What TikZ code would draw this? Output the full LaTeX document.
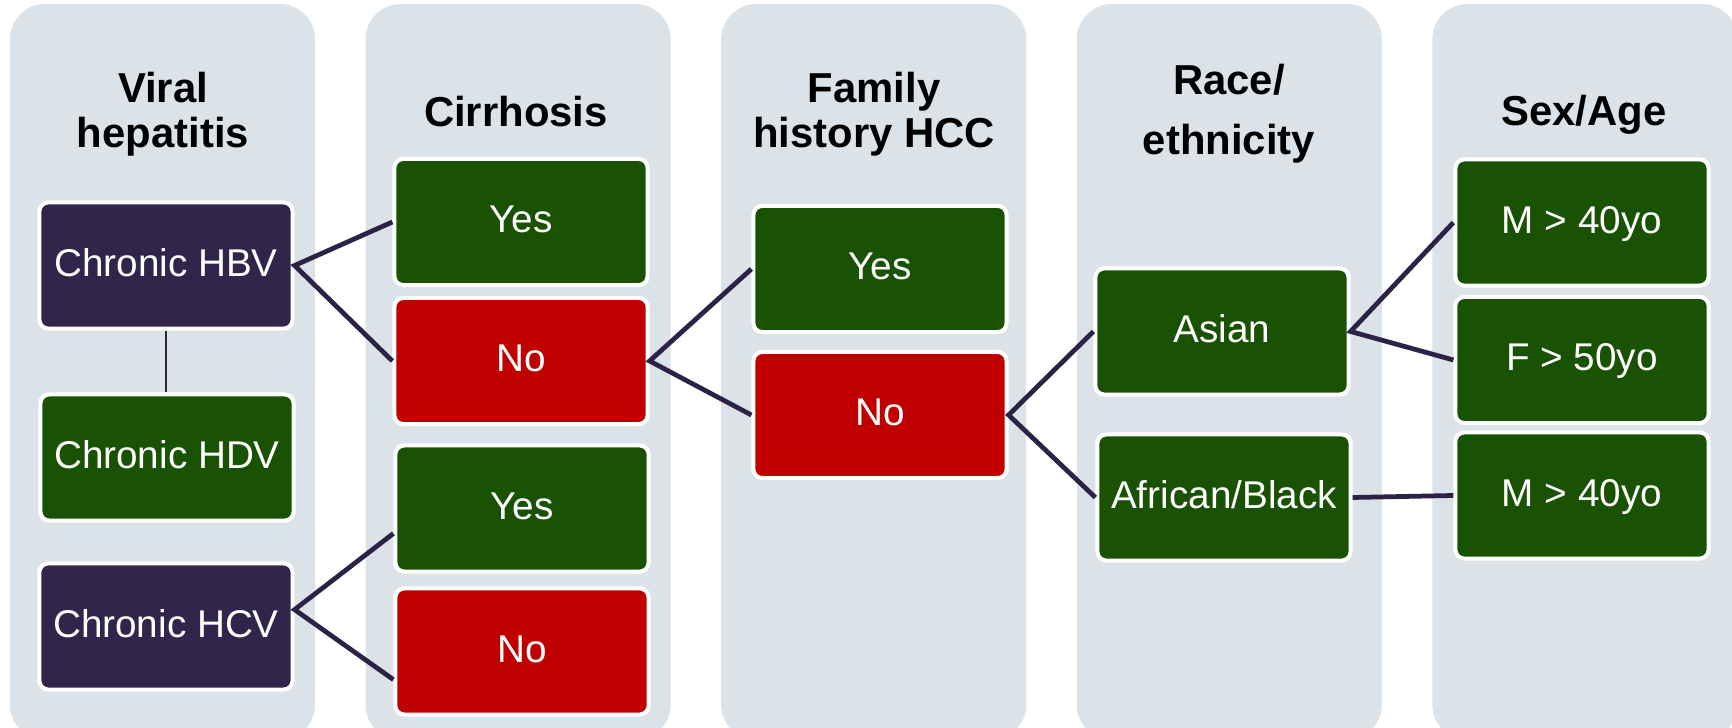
\documentclass[tikz,border=0pt]{standalone}
\usepackage{fontspec}
\setmainfont{Liberation Sans}
\usepackage{xcolor}
\usepackage{tikz}
\definecolor{panelgray}{HTML}{DBE3E9}
\definecolor{hepnavy}{HTML}{30254A}
\definecolor{hepgreen}{HTML}{185202}
\definecolor{hepred}{HTML}{C00000}
\definecolor{linknavy}{HTML}{2B2245}

\begin{document}
\begin{tikzpicture}[x=0.01cm,y=-0.01cm,
    box/.style={draw=white,line width=1.15pt,rounded corners=2.5pt,minimum width=2.53cm,minimum height=1.26cm,inner sep=0pt,text height=0.75em,text depth=0.15em,text=white,font=\fontsize{11}{13}\selectfont},
    navybox/.style={box,fill=hepnavy},
    yesbox/.style={box,fill=hepgreen},
    nobox/.style={box,fill=hepred},
    head/.style={align=center,font=\fontsize{11.9}{12.8}\selectfont\bfseries},
    link/.style={linknavy,line width=1.35pt}]
            \useasboundingbox (0,0) rectangle (1732,728);
            \foreach \c in {0,...,4}
                \fill[panelgray,rounded corners=10pt] (10+355.6*\c,4) rectangle (315+355.6*\c,740);
            \node[head] (hviral) at (163,114) {Viral\\hepatitis};
            \node[head] (hcirr) at (516,112) {Cirrhosis};
            \node[head] (hfamily) at (874,114) {Family\\history HCC};
            \node[head,font=\fontsize{11.9}{17}\selectfont\bfseries] (hrace) at (1229,114) {Race/\\ethnicity};
            \node[head] (hsex) at (1584,115) {Sex/Age};
            \node[navybox] (hbv) at (166,265.5) {Chronic HBV};
            \node[yesbox] (hdv) at (167,457.5) {Chronic HDV};
            \node[navybox] (hcv) at (166,626.5) {Chronic HCV};
            \node[yesbox] (cyes) at (521,222) {Yes};
            \node[nobox] (cno) at (521,361) {No};
            \node[yesbox] (cyesb) at (522,508.5) {Yes};
            \node[nobox] (cnob) at (522,651.5) {No};
            \node[yesbox] (fyes) at (880,269) {Yes};
            \node[nobox] (fno) at (880,415) {No};
            \node[yesbox] (asian) at (1222,331.5) {Asian};
            \node[yesbox] (african) at (1224,497.5) {African/Black};
            \node[yesbox] (mfirst) at (1582,222.5) {M > 40yo};
            \node[yesbox] (fover) at (1582,360) {F > 50yo};
            \node[yesbox] (msecond) at (1582,495.5) {M > 40yo};
            \draw[link,line width=0.6pt] (hbv.south) -- (hbv.south |- hdv.north);
            \draw[link] (cyes.west) -- (hbv.east) -- (cno.west);
            \draw[link] ([yshift=-7.1pt]cyesb.west) -- ([yshift=4.8pt]hcv.east) -- ([yshift=-8pt]cnob.west);
            \draw[link] (fyes.west) -- (cno.east) -- (fno.west);
            \draw[link] (asian.west) -- (fno.east) -- (african.west);
            \draw[link] (mfirst.west) -- (asian.east) -- (fover.west);
            \draw[link] (african.east) -- (msecond.west);
        \end{tikzpicture}
\end{document}
